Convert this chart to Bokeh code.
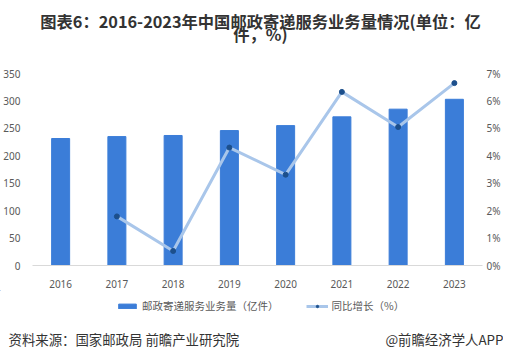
from bokeh.plotting import figure
from bokeh.layouts import column
from bokeh.models import (Range1d, LinearAxis, FixedTicker, PrintfTickFormatter,
                          Legend, LegendItem)
from bokeh.core.properties import value
from bokeh.embed import file_html
from bokeh.resources import INLINE

years = [2016, 2017, 2018, 2019, 2020, 2021, 2022, 2023]
volume = [231.5, 235, 237, 246, 255, 271, 285, 303]
growth_years = [2017, 2018, 2019, 2020, 2021, 2022, 2023]
growth = [1.79, 0.53, 4.3, 3.31, 6.33, 5.05, 6.65]
left_ticks = [0, 50, 100, 150, 200, 250, 300, 350]
right_ticks = [0, 1, 2, 3, 4, 5, 6, 7]

title1 = "图表6：2016-2023年中国邮政寄递服务业务量情况(单位：亿"
title2 = "件，%)"
source_text = "资料来源：国家邮政局 前瞻产业研究院"
brand_text = "@前瞻经济学人APP"
bar_name = "邮政寄递服务业务量（亿件）"
line_name = "同比增长（%）"

CJK = "Noto Sans CJK SC"
NUM = "Noto Sans"
LABEL_COLOR = "#595959"
BAR_COLOR = "#3b7dd8"
LINE_COLOR = "#a9c6ea"
DOT_COLOR = "#1c4f8c"
W = 503


def no_align(f):
    if "frame_align" in type(f).properties():
        f.frame_align = False
    return f


def blank(h):
    f = figure(width=W, height=h, output_backend="svg", toolbar_location=None,
               x_range=Range1d(0, W), y_range=Range1d(h, 0),
               x_axis_type=None, y_axis_type=None, min_border=0,
               min_border_left=0, min_border_right=0, min_border_top=0,
               min_border_bottom=0, outline_line_color=None)
    f.xgrid.visible = False
    f.ygrid.visible = False
    return no_align(f)


# ---- title ----
top = blank(45)
top.text(x=[260, 260], y=[20, 33], text=[title1, title2], text_align="center",
         text_baseline="middle", text_font=value(CJK), text_font_style="bold",
         text_font_size="16.3px", text_color="#333333")

# ---- main chart ----
p = figure(width=W, height=245, output_backend="svg", toolbar_location=None,
           x_range=Range1d(2015.5, 2023.5), y_range=Range1d(0, 350),
           min_border_left=24, min_border_right=18, min_border_top=28,
           min_border_bottom=22, outline_line_color=None)
no_align(p)
p.extra_y_ranges = {"pct": Range1d(0, 7)}
p.xgrid.visible = False
p.ygrid.visible = False

p.vbar(x=years, top=volume, width=0.32, color=BAR_COLOR)
p.line(x=growth_years, y=growth, y_range_name="pct", line_color=LINE_COLOR,
       line_width=3)
p.scatter(x=growth_years, y=growth, y_range_name="pct", size=5,
          fill_color=DOT_COLOR, line_color=DOT_COLOR)

xa = p.xaxis[0]
xa.ticker = FixedTicker(ticks=years)
xa.axis_line_color = "#d9d9d9"
xa.major_tick_line_color = None
xa.minor_tick_line_color = None
xa.major_label_standoff = 8
xa.major_label_text_font = NUM
xa.major_label_text_font_size = "10px"
xa.major_label_text_color = LABEL_COLOR

ya = p.yaxis[0]
ya.ticker = FixedTicker(ticks=left_ticks)
ya.axis_line_color = None
ya.major_tick_line_color = None
ya.minor_tick_line_color = None
ya.major_label_standoff = 6
ya.major_label_text_font = NUM
ya.major_label_text_font_size = "10px"
ya.major_label_text_color = LABEL_COLOR

ra = LinearAxis(y_range_name="pct", ticker=FixedTicker(ticks=right_ticks),
                formatter=PrintfTickFormatter(format="%d%%"))
ra.axis_line_color = None
ra.major_tick_line_color = None
ra.minor_tick_line_color = None
ra.major_tick_out = 0
ra.major_tick_in = 0
ra.minor_tick_out = 0
ra.major_label_standoff = 4
ra.major_label_text_font = NUM
ra.major_label_text_font_size = "10px"
ra.major_label_text_color = LABEL_COLOR
p.add_layout(ra, "right")

# ---- legend + footer ----
bottom = blank(58)
# legend-only renderers, placed outside the visible ranges
lg_bar = bottom.vbar(x=[-100], top=[-100], bottom=[-120], width=10,
                     color=BAR_COLOR)
lg_line = bottom.line(x=[-100, -90], y=[-100, -100], line_color=LINE_COLOR,
                      line_width=3)
lg_dot = bottom.scatter(x=[-100], y=[-100], size=5, fill_color=DOT_COLOR,
                        line_color=DOT_COLOR)
legend = Legend(items=[LegendItem(label=bar_name, renderers=[lg_bar]),
                       LegendItem(label=line_name, renderers=[lg_line, lg_dot])],
                orientation="horizontal", location=(116, 35),
                glyph_width=22, glyph_height=6, label_height=14,
                label_standoff=4, spacing=27, padding=0, margin=0,
                border_line_color=None, background_fill_alpha=0,
                label_text_font=CJK, label_text_font_size="10.5px",
                label_text_color=LABEL_COLOR)
bottom.add_layout(legend, "center")
bottom.text(x=[8], y=[48], text=[source_text], text_align="left",
            text_baseline="middle", text_font=value(CJK),
            text_font_size="13.4px", text_color="#333333")
bottom.text(x=[503], y=[48], text=[brand_text], text_align="right",
            text_baseline="middle", text_font=value(CJK),
            text_font_size="13.4px", text_color="#333333")

layout = column(top, p, bottom, spacing=0)
open("out.html", "w").write(file_html(layout, INLINE))
